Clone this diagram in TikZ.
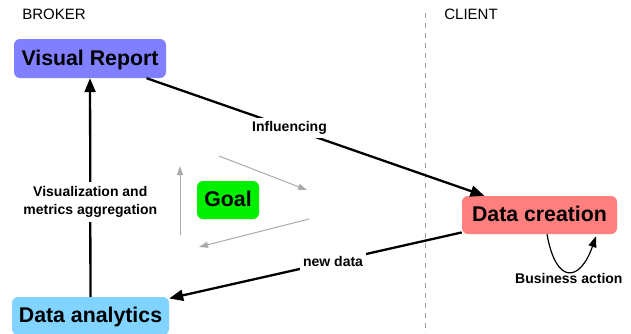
\documentclass[tikz,border=0pt]{standalone}
\usepackage{fontspec}
\setmainfont{Liberation Sans}
\usetikzlibrary{arrows.meta,calc}
\definecolor{vrcol}{RGB}{127,127,255}
\definecolor{dacol}{RGB}{128,212,255}
\definecolor{dccol}{RGB}{255,127,127}
\definecolor{goalcol}{RGB}{0,240,0}
\definecolor{thingray}{RGB}{170,170,170}
\definecolor{sepgray}{RGB}{160,160,160}
\tikzset{
  bigbox/.style={rounded corners=6pt, inner sep=0pt, font=\fontsize{21.3}{24}\selectfont\bfseries, minimum height=38pt, text depth=0pt, text height=13pt},
  lbl/.style={font=\fontsize{14}{17.5}\selectfont\bfseries, fill=white, inner sep=3pt, align=center},
  mainarrow/.style={line width=2.3pt, -{Triangle[length=14pt,width=11pt]}},
  looparrow/.style={line width=1.2pt, -{Triangle[length=11pt,width=8pt]}},
  grayarrow/.style={draw=thingray, line width=1pt, -{Triangle[length=9pt,width=6pt]}, color=thingray},
  sideheader/.style={font=\fontsize{15}{17}\selectfont, inner sep=0pt},
}
\begin{document}
\begin{tikzpicture}[x=1pt,y=-1pt]
\useasboundingbox (0,0) rectangle (631,333);
% headers
\node[sideheader] (broker) at (54,14) {BROKER};
\node[sideheader] (client) at (471,14) {CLIENT};
% separator
\coordinate (septop) at (425,13);
\coordinate (sepbot) at (425,333);
\draw[sepgray, line width=0.9pt, dash pattern=on 5pt off 5pt] (septop) -- (sepbot);
% nodes
\node[bigbox, fill=vrcol, minimum width=152pt, minimum height=39pt] (vr) at (90,58.5) {Visual Report};
\node[bigbox, fill=dacol, minimum width=157pt] (da) at (90.5,316) {Data analytics};
\node[bigbox, fill=dccol, minimum width=155pt] (dc) at (539.5,215) {Data creation};
\node[bigbox, fill=goalcol, minimum width=62pt] (goal) at (228,200) {Goal};
% main connectors
\draw[mainarrow] (vr) -- node[lbl, pos=0.423] (infl) {Influencing} (dc);
\draw[mainarrow] (dc) -- node[lbl, pos=0.44] (nd) {new data} (da);
\draw[mainarrow] (da) -- node[lbl, pos=0.434, inner sep=5pt] (vis) {Visualization and\\metrics aggregation} (vr);
% self loop
\coordinate (loopstart) at ($(dc.south)+(7.5,0)$);
\coordinate (loopend) at ($(dc.south)+(56.5,2)$);
\draw[looparrow] (loopstart) .. controls ($(loopstart)+(9,51)$) and ($(loopstart)+(33,48)$) .. node[pos=0.5, below, font=\fontsize{14}{17}\selectfont\bfseries, inner sep=1.5pt] (ba) {Business action} (loopend);
% gray cycle arrows
\coordinate (g1a) at (180,235);
\coordinate (g1b) at (180,166);
\coordinate (g2a) at (219,156);
\coordinate (g2b) at (307,190);
\coordinate (g3a) at (309,219);
\coordinate (g3b) at (199,247);
\draw[grayarrow] (g1a) -- (g1b);
\draw[grayarrow] (g2a) -- (g2b);
\draw[grayarrow] (g3a) -- (g3b);
\end{tikzpicture}
\end{document}
